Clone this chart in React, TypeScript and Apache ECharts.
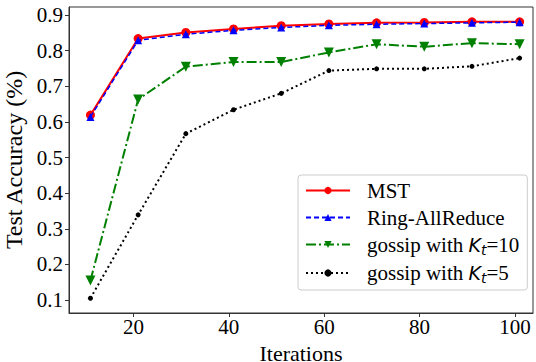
import React, { useEffect, useRef } from "react";
import * as echarts from "echarts";

const iterations = [11, 21, 31, 41, 51, 61, 71, 81, 91, 101];
const mstAcc = [0.619, 0.834, 0.851, 0.861, 0.870, 0.875, 0.878, 0.879, 0.881, 0.881];
const ringAcc = [0.614, 0.829, 0.846, 0.857, 0.865, 0.871, 0.874, 0.876, 0.878, 0.880];
const gossip10Acc = [0.155, 0.663, 0.755, 0.768, 0.768, 0.795, 0.818, 0.811, 0.821, 0.818];
const gossip5Acc = [0.105, 0.339, 0.567, 0.634, 0.680, 0.744, 0.749, 0.749, 0.756, 0.779];
const xTicks = [20, 40, 60, 80, 100];
const yTicks = [0.1, 0.2, 0.3, 0.4, 0.5, 0.6, 0.7, 0.8, 0.9];

const pairs = (ys: number[]) => iterations.map((x, i) => [x, ys[i]]);

export default function App() {
  const ref = useRef<HTMLDivElement>(null);
  useEffect(() => {
    if (!ref.current) return;
    const chart = echarts.init(ref.current, null, { renderer: "svg" });
    const serif = "'Liberation Serif', 'Times New Roman', serif";
    const math = "'DejaVu Sans', sans-serif";
    chart.setOption({
      animation: false,
      backgroundColor: "#ffffff",
      textStyle: { fontFamily: serif },
      grid: {
        left: 69,
        right: 3,
        top: 7,
        bottom: 49,
        show: true,
        borderColor: "#333",
        borderWidth: 1,
        containLabel: false,
        outerBoundsMode: "none",
      },
      xAxis: {
        type: "value",
        min: 6.5,
        max: 103.8,
        name: "Iterations",
        nameLocation: "middle",
        nameGap: 20,
        nameTextStyle: { fontFamily: serif, fontSize: 22, color: "#000", lineHeight: 24 },
        axisLine: { show: true, lineStyle: { color: "#333", width: 1 } },
        axisTick: { show: true, length: 4, inside: false, customValues: xTicks, lineStyle: { color: "#333" } },
        axisLabel: {
          customValues: xTicks,
          fontFamily: serif,
          fontSize: 21,
          color: "#000",
          margin: 3,
        },
        splitLine: { show: false },
      },
      yAxis: {
        type: "value",
        min: 0.0635,
        max: 0.9225,
        name: "Test Accuracy (%)",
        nameLocation: "middle",
        nameGap: 40,
        nameTextStyle: { fontFamily: serif, fontSize: 24, color: "#000" },
        axisLine: { show: true, lineStyle: { color: "#333", width: 1 } },
        axisTick: { show: true, length: 4, inside: false, customValues: yTicks, lineStyle: { color: "#333" } },
        axisLabel: {
          customValues: yTicks,
          formatter: (v: number) => v.toFixed(1),
          fontFamily: serif,
          fontSize: 21,
          color: "#000",
          margin: 6,
        },
        splitLine: { show: false },
      },
      legend: {
        left: 298,
        top: 175,
        orient: "vertical",
        selectedMode: false,
        backgroundColor: "rgba(255,255,255,0.8)",
        borderColor: "#ccc",
        borderWidth: 1,
        borderRadius: 3,
        padding: [5, 8, 5, 7],
        itemGap: 6,
        itemWidth: 44,
        itemHeight: 9,
        formatter: (name: string) => {
          const m = name.match(/^gossip with K_t=(\d+)$/);
          if (m) return "{n|gossip with }{k|K}{s|t}{n|=" + m[1] + "}";
          return "{n|" + name + "}";
        },
        textStyle: {
          fontFamily: serif,
          fontSize: 21,
          color: "#000",
          padding: [0, 0, 0, 12],
          rich: {
            n: { fontFamily: serif, fontSize: 21, color: "#000", lineHeight: 24, verticalAlign: "middle" },
            k: { fontFamily: math, fontStyle: "italic", fontSize: 19, color: "#000", lineHeight: 24, verticalAlign: "middle" },
            s: { fontFamily: math, fontStyle: "italic", fontSize: 14, color: "#000", lineHeight: 14, verticalAlign: "bottom" },
          },
        },
      },
      series: [
        {
          name: "MST",
          type: "line",
          data: pairs(mstAcc),
          symbol: "circle",
          symbolSize: 9,
          lineStyle: { color: "#ff0000", width: 2 },
          itemStyle: { color: "#ff0000" },
          z: 5,
        },
        {
          name: "Ring-AllReduce",
          type: "line",
          data: pairs(ringAcc),
          symbol: "triangle",
          symbolSize: 8,
          lineStyle: { color: "#0000ff", width: 1.5, type: [5, 3] },
          itemStyle: { color: "#0000ff" },
          z: 6,
        },
        {
          name: "gossip with K_t=10",
          type: "line",
          data: pairs(gossip10Acc),
          symbol: "triangle",
          symbolRotate: 180,
          symbolSize: 10,
          lineStyle: { color: "#008000", width: 2, type: [10, 3, 2, 3] },
          itemStyle: { color: "#008000" },
          z: 4,
        },
        {
          name: "gossip with K_t=5",
          type: "line",
          data: pairs(gossip5Acc),
          symbol: "circle",
          symbolSize: 5,
          lineStyle: { color: "#000000", width: 2, type: [2, 3] },
          itemStyle: { color: "#000000" },
          z: 3,
        },
      ],
    });
    return () => chart.dispose();
  }, []);
  return <div ref={ref} style={{ width: 536, height: 362, position: "absolute", left: 0, top: 0 }} />;
}
